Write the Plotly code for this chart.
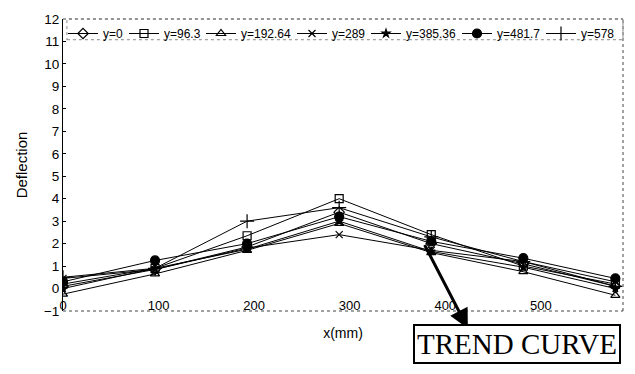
import plotly.graph_objects as go

x_pos = [0, 96.3, 192.64, 289, 385.36, 481.7, 578]
series_names = ["y=0", "y=96.3", "y=192.64", "y=289", "y=385.36", "y=481.7", "y=578"]
d_y0 = [0.1, 0.85, 1.85, 3.4, 2.0, 1.1, 0.1]
d_y96 = [0.2, 0.9, 2.35, 4.0, 2.4, 1.0, 0.2]
d_y192 = [-0.25, 0.65, 1.7, 2.9, 1.6, 0.75, -0.3]
d_y289 = [0.45, 0.85, 1.8, 2.4, 1.7, 1.2, 0.3]
d_y385 = [0.0, 0.9, 1.75, 3.0, 1.65, 0.95, 0.0]
d_y481 = [0.3, 1.25, 2.0, 3.2, 2.1, 1.35, 0.45]
d_y578 = [0.5, 0.9, 3.0, 3.6, 2.3, 1.2, 0.1]
x_ticks = [0, 100, 200, 300, 400, 500]
y_ticks = list(range(-1, 13))

all_series = [d_y0, d_y96, d_y192, d_y289, d_y385, d_y481, d_y578]
symbols = ["diamond-open", "square-open", "triangle-up-open", "x-thin-open",
           "star", "circle", "cross-thin-open"]
sizes = [8, 8, 8, 7, 6, 9, 10]

LEG_FONT = 12
char_w = {"y": 0.5, "=": 0.584, ".": 0.278}


def text_width(s):
    return sum(char_w.get(c, 0.556) for c in s) * LEG_FONT


fig = go.Figure()
for name, vals, sym, sz in zip(series_names, all_series, symbols, sizes):
    fig.add_trace(go.Scatter(
        x=x_pos, y=vals, name=name, mode="lines+markers",
        line=dict(color="black", width=1),
        marker=dict(symbol=sym, size=sz, color="black",
                    line=dict(color="black", width=1.2)),
        legendwidth=max(10, round(text_width(name)) - 4),
    ))

dot = dict(color="#444", width=1, dash="dot")
fig.add_shape(type="line", xref="paper", yref="paper", x0=0, x1=1, y0=0, y1=0, line=dot)
fig.add_shape(type="line", xref="paper", yref="paper", x0=1, x1=1, y0=0, y1=1, line=dot)
fig.add_shape(type="line", xref="paper", yref="paper", x0=0, x1=1, y0=1, y1=1, line=dot)
fig.add_shape(type="rect", xref="paper", yref="paper", x0=0.007, x1=1, y0=0.929, y1=1,
              line=dict(color="#888", width=1, dash="dot"))

# arrow
fig.add_annotation(xref="paper", yref="paper", x=0.723, y=-0.06, text="",
                   showarrow=True, ax=-44, ay=-85, arrowhead=2, arrowsize=1.3,
                   arrowwidth=3, arrowcolor="black", standoff=0)
fig.add_annotation(xref="paper", yref="paper", x=0.8116, y=-0.113, text="TREND CURVE",
                   showarrow=False, font=dict(family="Liberation Serif", size=29, color="black"),
                   bordercolor="black", borderwidth=2, borderpad=2, bgcolor="white",
                   xanchor="center", yanchor="middle")

fig.update_layout(
    width=635, height=374,
    margin=dict(l=63, r=12, t=15, b=63),
    plot_bgcolor="white", paper_bgcolor="white",
    font=dict(family="Liberation Sans", size=13, color="black"),
    showlegend=True,
    legend=dict(orientation="h", x=0.0, y=1.0, xanchor="left", yanchor="top",
                font=dict(size=LEG_FONT), bgcolor="rgba(0,0,0,0)", itemwidth=30,
                tracegroupgap=0),
    xaxis=dict(range=[0, 586], tickvals=x_ticks, showgrid=False, zeroline=False,
               showline=False, ticks="", ticklabelstandoff=-15,
               tickfont=dict(size=13),
               title=dict(text="x(mm)", standoff=16, font=dict(size=14))),
    yaxis=dict(range=[-1, 12], tickvals=y_ticks, showgrid=False, zeroline=False,
               showline=True, linecolor="black", linewidth=1, ticks="inside",
               ticklen=3, tickcolor="black", tickfont=dict(size=13.5),
               title=dict(text="Deflection", standoff=12, font=dict(size=15))),
)

fig.write_html("out.html")
